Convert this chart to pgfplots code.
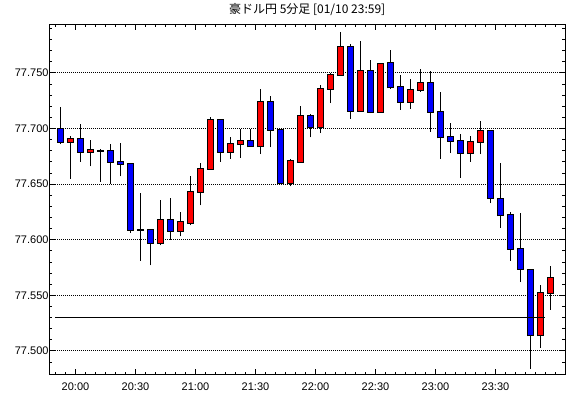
\documentclass[border=0pt]{standalone}
\usepackage{pgfplots}
\pgfplotsset{compat=1.18}
\usepackage{pgfplotstable}
\usepackage{fontspec}
\setmainfont{Liberation Sans}
\newfontfamily\cjk{Noto Sans CJK JP}
\definecolor{upred}{RGB}{255,0,0}
\definecolor{dnblue}{RGB}{0,0,255}

\pgfplotstableread{
i o h l c
0 77.700 77.719 77.686 77.688
1 77.688 77.693 77.655 77.691
2 77.691 77.704 77.670 77.679
3 77.679 77.690 77.666 77.681
4 77.680 77.682 77.652 77.680
5 77.680 77.686 77.650 77.670
6 77.670 77.687 77.657 77.668
7 77.668 77.669 77.606 77.609
8 77.609 77.642 77.581 77.609
9 77.609 77.609 77.577 77.597
10 77.597 77.636 77.595 77.618
11 77.618 77.638 77.600 77.608
12 77.608 77.625 77.603 77.616
13 77.615 77.657 77.613 77.643
14 77.643 77.669 77.631 77.664
15 77.664 77.710 77.664 77.708
16 77.708 77.709 77.670 77.679
17 77.679 77.692 77.673 77.686
18 77.686 77.700 77.674 77.689
19 77.689 77.700 77.684 77.684
20 77.684 77.736 77.677 77.724
21 77.724 77.729 77.683 77.699
22 77.699 77.700 77.651 77.651
23 77.651 77.673 77.648 77.671
24 77.670 77.720 77.670 77.711
25 77.711 77.713 77.692 77.701
26 77.701 77.739 77.696 77.736
27 77.736 77.750 77.723 77.748
28 77.748 77.787 77.748 77.773
29 77.773 77.776 77.709 77.716
30 77.716 77.779 77.716 77.752
31 77.752 77.762 77.714 77.715
32 77.715 77.758 77.715 77.758
33 77.759 77.771 77.736 77.737
34 77.737 77.748 77.717 77.724
35 77.724 77.745 77.718 77.735
36 77.735 77.754 77.733 77.741
37 77.741 77.752 77.697 77.715
38 77.715 77.733 77.673 77.692
39 77.692 77.705 77.678 77.689
40 77.689 77.695 77.656 77.678
41 77.678 77.693 77.670 77.688
42 77.688 77.707 77.677 77.698
43 77.698 77.698 77.633 77.638
44 77.637 77.669 77.611 77.622
45 77.622 77.625 77.581 77.592
46 77.592 77.624 77.562 77.574
47 77.573 77.573 77.484 77.514
48 77.514 77.559 77.503 77.552
49 77.552 77.576 77.537 77.566
}\candles

\begin{document}
\begin{tikzpicture}
\useasboundingbox (-49.3pt,-23pt) rectangle (520.7pt,375pt);
\begin{axis}[
  at={(0pt,0pt)}, anchor=south west,
  scale only axis, width=515.7pt, height=350.7pt,
  xmin=-1.12, xmax=50.45,
  ymin=77.4784, ymax=77.7938,
  axis line style={black, line width=1pt},
  tick style={black, line width=1pt},
  major tick length=6pt, minor tick length=2.7pt,
  tick align=inside,
  xtick={1.5,7.5,13.5,19.5,25.5,31.5,37.5,43.5},
  xticklabels={20:00,20:30,21:00,21:30,22:00,22:30,23:00,23:30},
  minor xtick={-0.5,0.5,...,49.5},
  ytick={77.5,77.55,77.6,77.65,77.7,77.75},
  minor ytick={77.49,77.51,77.52,77.53,77.54,77.56,77.57,77.58,77.59,77.61,77.62,77.63,77.64,77.66,77.67,77.68,77.69,77.71,77.72,77.73,77.74,77.76,77.77,77.78,77.79},
  y tick label style={/pgf/number format/fixed, /pgf/number format/fixed zerofill, /pgf/number format/precision=3, /pgf/number format/assume math mode=true, inner sep=0.6pt},
  x tick label style={/pgf/number format/assume math mode=true, yshift=-4.5pt},
  tick label style={font=\fontsize{11}{13}\selectfont},
  ymajorgrids,
  major grid style={black, line width=1pt, dash pattern=on 1pt off 1pt},
  title={豪ドル円 5分足 [01/10 23:59]},
  title style={font=\cjk\fontsize{12}{14}\selectfont, at={(0.5,1)}, anchor=base, yshift=5pt, inner sep=0pt},
  clip=true,
]
% wicks
\addplot[draw=none, mark=none, forget plot,
  error bars/.cd, y dir=plus, y explicit, error mark=none,
  error bar style={draw=black, solid, line width=1.2pt}]
  table[x=i, y=l, y error plus expr={\thisrow{h}-\thisrow{l}}] {\candles};
% body outlines
\addplot[draw=none, mark=none, forget plot,
  error bars/.cd, y dir=plus, y explicit, error mark=none,
  error bar style={draw=black, solid, line width=7pt}]
  table[x=i, y expr={min(\thisrow{o},\thisrow{c})-0.0009}, y error plus expr={abs(\thisrow{c}-\thisrow{o})+0.0018}] {\candles};
% up bodies
\addplot[draw=none, mark=none, forget plot,
  restrict expr to domain={\thisrow{c}-\thisrow{o}}{0.0005:1},
  error bars/.cd, y dir=plus, y explicit, error mark=none,
  error bar style={draw=upred, solid, line width=5pt}]
  table[x=i, y=o, y error plus expr={\thisrow{c}-\thisrow{o}}] {\candles};
% down bodies
\addplot[draw=none, mark=none, forget plot,
  restrict expr to domain={\thisrow{o}-\thisrow{c}}{0.0005:1},
  error bars/.cd, y dir=plus, y explicit, error mark=none,
  error bar style={draw=dnblue, solid, line width=5pt}]
  table[x=i, y=c, y error plus expr={\thisrow{o}-\thisrow{c}}] {\candles};
% reference line
\addplot[black, line width=1pt, mark=none] coordinates {(-0.55,77.530) (48.4,77.530)};
\end{axis}
\end{tikzpicture}
\end{document}
